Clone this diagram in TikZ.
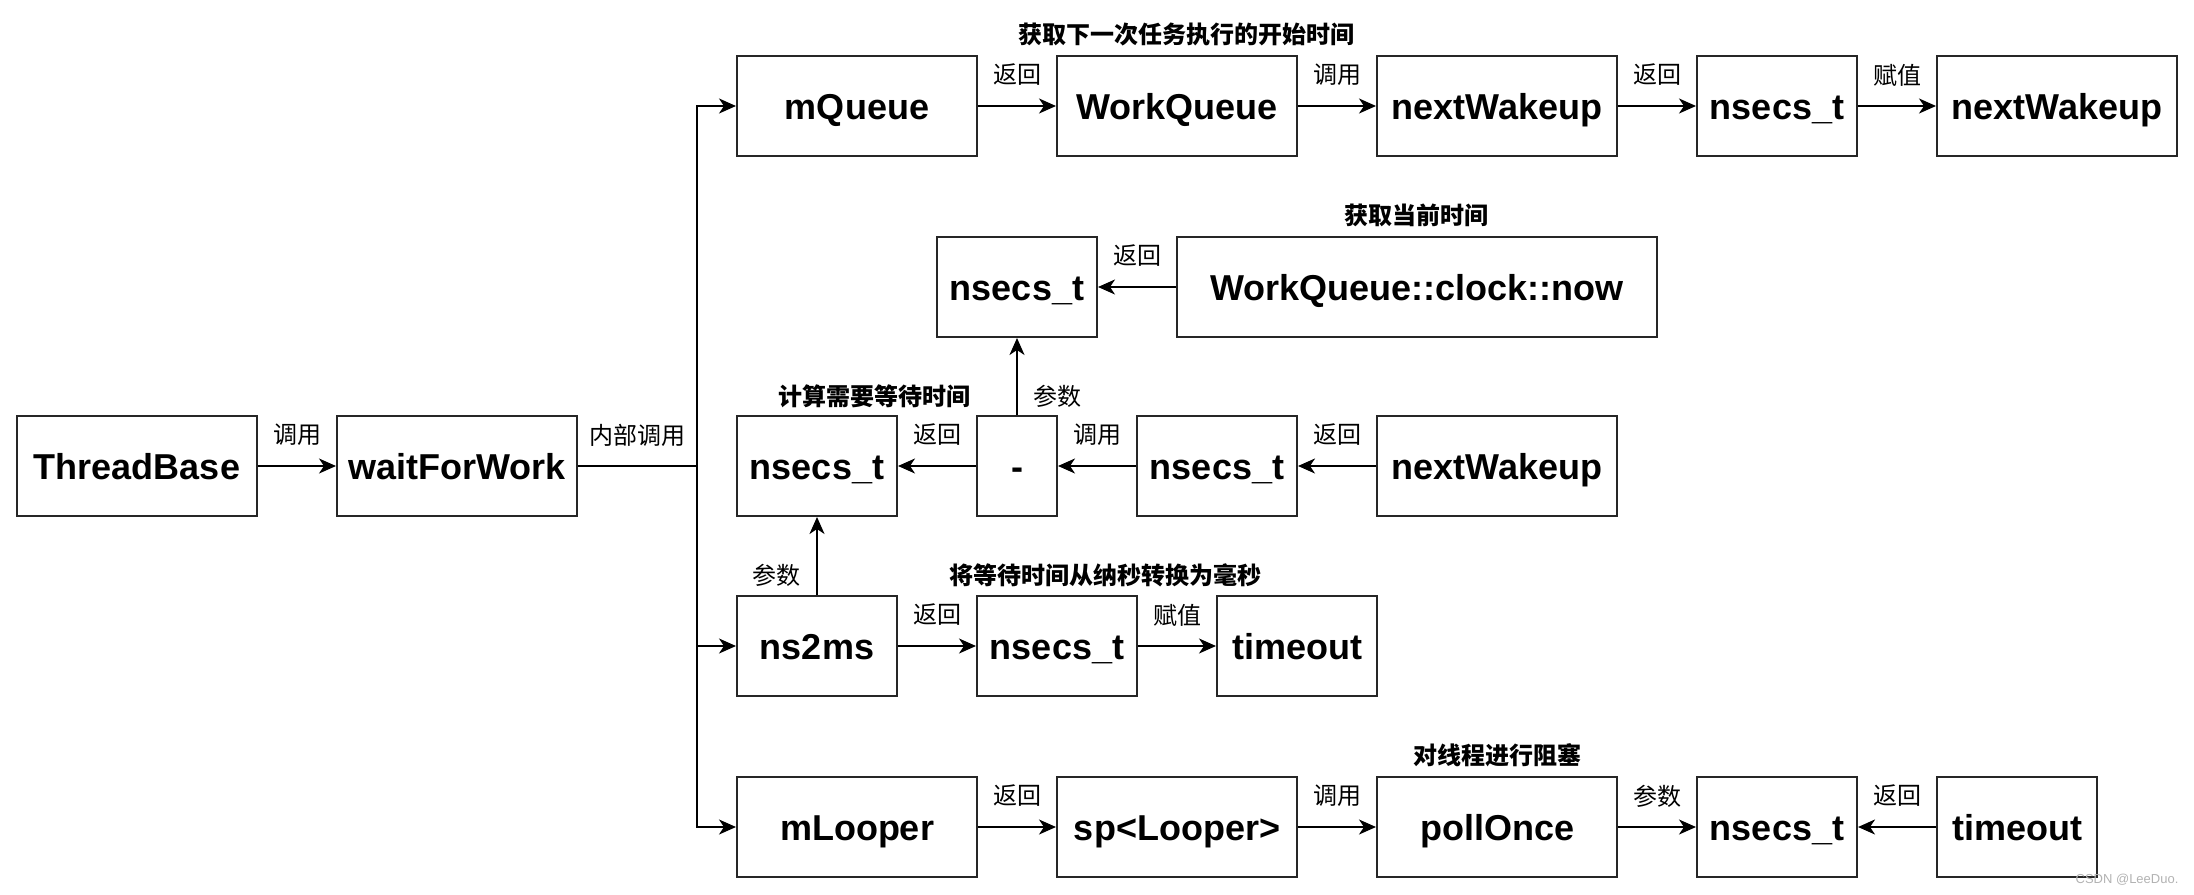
\documentclass[tikz,border=0pt]{standalone}
\usepackage{fontspec}
\setmainfont{Liberation Sans}
\newfontfamily\cjk{Noto Sans CJK SC}
\usetikzlibrary{arrows.meta}
\tikzset{
  box/.style={draw=black!85, line width=1pt, inner sep=0pt, text height=13pt, text depth=0pt, font=\bfseries\fontsize{18pt}{20pt}\selectfont},
  arr/.style={line width=1pt, -{Stealth[length=8.5pt,width=7.5pt,inset=2.5pt]}},
  ln/.style={line width=1pt},
  lbl/.style={font=\cjk\fontsize{12pt}{14pt}\selectfont, inner sep=0pt},
  ttl/.style={font=\cjk\bfseries\fontsize{12pt}{14pt}\selectfont, inner sep=0pt},
}
\newcommand{\bx}[6]{\node[box, minimum width={(#4-#2)*0.5pt}, minimum height={(#5-#3)*0.5pt}] (#1) at ({(#2+#4)/2},{(#3+#5)/2}) {#6};}
\begin{document}
\begin{tikzpicture}[x=0.5pt,y=-0.5pt]
\useasboundingbox (0,0) rectangle (2194,894);
% left
\bx{tb}{17}{416}{257}{516}{ThreadBase}
\bx{wfw}{337}{416}{577}{516}{waitForWork}
% row 1
\bx{mq}{737}{56}{977}{156}{mQueue}
\bx{wq}{1057}{56}{1297}{156}{WorkQueue}
\bx{nwa}{1377}{56}{1617}{156}{nextWakeup}
\bx{nsa}{1697}{56}{1857}{156}{nsecs\_t}
\bx{nwb}{1937}{56}{2177}{156}{nextWakeup}
% row 2
\bx{nsb}{937}{237}{1097}{337}{nsecs\_t}
\bx{now}{1177}{237}{1657}{337}{WorkQueue::clock::now}
% row 3
\bx{nsc}{737}{416}{897}{516}{nsecs\_t}
\bx{minus}{977}{416}{1057}{516}{-}
\bx{nsd}{1137}{416}{1297}{516}{nsecs\_t}
\bx{nwc}{1377}{416}{1617}{516}{nextWakeup}
% row 4
\bx{ns2ms}{737}{596}{897}{696}{ns2ms}
\bx{nse}{977}{596}{1137}{696}{nsecs\_t}
\bx{toa}{1217}{596}{1377}{696}{timeout}
% row 5
\bx{ml}{737}{777}{977}{877}{mLooper}
\bx{sp}{1057}{777}{1297}{877}{sp<Looper>}
\bx{po}{1377}{777}{1617}{877}{pollOnce}
\bx{nsf}{1697}{777}{1857}{877}{nsecs\_t}
\bx{tob}{1937}{777}{2097}{877}{timeout}

% connectors
\draw[arr] (tb) -- node[lbl, yshift=15.5pt] (l0) {调用} (wfw);
\coordinate (trunk) at (697,466);
\draw[ln] (wfw) -- node[lbl, yshift=15.5pt] (l1) {内部调用} (trunk);
\draw[arr] (trunk) |- (mq);
\draw[arr] (trunk) |- (ns2ms);
\draw[arr] (trunk) |- (ml);

\draw[arr] (mq) -- node[lbl, yshift=15.5pt] (l2) {返回} (wq);
\draw[arr] (wq) -- node[lbl, yshift=15.5pt] (l3) {调用} (nwa);
\draw[arr] (nwa) -- node[lbl, yshift=15.5pt] (l4) {返回} (nsa);
\draw[arr] (nsa) -- node[lbl, yshift=15.5pt] (l5) {赋值} (nwb);

\draw[arr] (now) -- node[lbl, yshift=15.5pt] (l6) {返回} (nsb);

\draw[arr] (nwc) -- node[lbl, yshift=15.5pt] (l7) {返回} (nsd);
\draw[arr] (nsd) -- node[lbl, yshift=15.5pt] (l8) {调用} (minus);
\draw[arr] (minus) -- node[lbl, yshift=15.5pt] (l9) {返回} (nsc);
\draw[arr] (minus) -- (nsb);
\node[lbl] (l10) at (1057,396) {参数};

\draw[arr] (ns2ms) -- node[lbl, yshift=15.5pt] (l11) {返回} (nse);
\draw[arr] (nse) -- node[lbl, yshift=15.5pt] (l12) {赋值} (toa);
\draw[arr] (ns2ms) -- (nsc);
\node[lbl] (l13) at (776,575) {参数};

\draw[arr] (ml) -- node[lbl, yshift=15.5pt] (l14) {返回} (sp);
\draw[arr] (sp) -- node[lbl, yshift=15.5pt] (l15) {调用} (po);
\draw[arr] (po) -- node[lbl, yshift=15.5pt] (l16) {参数} (nsf);
\draw[arr] (tob) -- node[lbl, yshift=15.5pt] (l17) {返回} (nsf);

% titles
\node[ttl] (t1) at (1186,34) {获取下一次任务执行的开始时间};
\node[ttl] (t2) at (1416,215) {获取当前时间};
\node[ttl] (t3) at (874,396) {计算需要等待时间};
\node[ttl] (t4) at (1105,575) {将等待时间从纳秒转换为毫秒};
\node[ttl] (t5) at (1497,755) {对线程进行阻塞};

\node[font=\fontsize{6.5pt}{7pt}\selectfont, text=gray!60, inner sep=0pt] (wm) at (2127,880) {CSDN @LeeDuo.};
\end{tikzpicture}
\end{document}
